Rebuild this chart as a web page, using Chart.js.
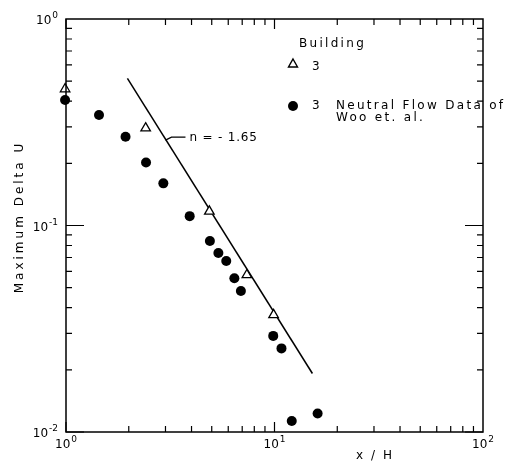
<!DOCTYPE html>
<html>
<head>
<meta charset="utf-8">
<script src="https://cdn.jsdelivr.net/npm/chart.js@4.4.0/dist/chart.umd.min.js"></script>
<style>
  html, body { margin: 0; padding: 0; background: #fff; }
  #wrap { width: 509px; height: 463px; }
</style>
</head>
<body>
<div id="wrap"><canvas id="chart"></canvas></div>
<script>
// Building 3 (open triangles)
const buildingX = [0.99, 2.41, 4.87, 7.37, 9.9];
const buildingY = [0.458, 0.296, 0.117, 0.0576, 0.0369];
// Woo et al. neutral flow data (filled circles)
const wooX = [0.99, 1.44, 1.93, 2.42, 2.93, 3.92, 4.90, 5.38, 5.87, 6.42, 6.90, 9.86, 10.8, 12.1, 16.1];
const wooY = [0.405, 0.343, 0.269, 0.202, 0.160, 0.111, 0.0841, 0.0736, 0.0673, 0.0555, 0.0482, 0.0292, 0.0254, 0.0113, 0.0123];
// power law fit line, n = -1.65
const fitX = [1.97, 15.2];
const fitY = [0.516, 0.0192];
const fitLabel = 'n = - 1.65';
const fitLabelAt = 3.0;

const xMajor = [1, 10, 100];
const xExp = ['0', '1', '2'];
const yMajor = [1, 0.1, 0.01];
const yExp = ['0', '-1', '-2'];
const xTitle = 'x / H';
const yTitle = 'Maximum Delta U';

const FONT = '"DejaVu Sans", sans-serif';

function toPoints(xs, ys) {
  return xs.map((x, i) => ({ x: x, y: ys[i] }));
}

// value on the fit line at a given x
function fitValue(x) {
  const k = Math.log(fitY[1] / fitY[0]) / Math.log(fitX[1] / fitX[0]);
  return fitY[0] * Math.pow(x / fitX[0], k);
}

function powLabel(ctx, base, exp, x, y, align) {
  ctx.font = '12px ' + FONT;
  const bw = ctx.measureText(base).width;
  ctx.font = '9px ' + FONT;
  const ew = ctx.measureText(exp).width;
  let left = x;
  if (align === 'center') left = x - (bw + ew + 1) / 2;
  if (align === 'right') left = x - (bw + ew + 1);
  ctx.textAlign = 'left';
  ctx.textBaseline = 'alphabetic';
  ctx.font = '12px ' + FONT;
  ctx.fillText(base, left, y);
  ctx.font = '9px ' + FONT;
  ctx.fillText(exp, left + bw + 1, y - 6);
}

const frame = {
  id: 'frame',
  afterDraw(chart) {
    const ctx = chart.ctx;
    const a = chart.chartArea;
    const xs = chart.scales.x;
    const ys = chart.scales.y;
    ctx.save();
    ctx.strokeStyle = '#000';
    ctx.fillStyle = '#000';
    ctx.lineWidth = 1.5;
    ctx.strokeRect(a.left, a.top, a.right - a.left, a.bottom - a.top);

    // inward ticks on all four sides
    ctx.lineWidth = 1.2;
    ctx.beginPath();
    [1, 10].forEach(d => {
      for (let m = 1; m <= 9; m++) {
        const px = xs.getPixelForValue(d * m);
        const len = m === 1 ? 10 : 6;
        ctx.moveTo(px, a.bottom); ctx.lineTo(px, a.bottom - len);
        ctx.moveTo(px, a.top); ctx.lineTo(px, a.top + len);
      }
    });
    [0.01, 0.1].forEach(d => {
      for (let m = 1; m <= 9; m++) {
        const py = ys.getPixelForValue(d * m);
        const len = m === 1 ? 18 : 6;
        ctx.moveTo(a.left, py); ctx.lineTo(a.left + len, py);
        ctx.moveTo(a.right, py); ctx.lineTo(a.right - len, py);
      }
    });
    ctx.stroke();

    // tick labels
    xMajor.forEach((v, i) => {
      powLabel(ctx, '10', xExp[i], xs.getPixelForValue(v), a.bottom + 16, 'center');
    });
    yMajor.forEach((v, i) => {
      powLabel(ctx, '10', yExp[i], a.left - 8, ys.getPixelForValue(v) + 5, 'right');
    });

    // axis titles
    ctx.font = '12px ' + FONT;
    ctx.letterSpacing = '2px';
    ctx.textAlign = 'center';
    ctx.textBaseline = 'middle';
    ctx.fillText(xTitle, 375, 456);
    ctx.save();
    ctx.translate(20, 217);
    ctx.rotate(-Math.PI / 2);
    ctx.letterSpacing = '3px';
    ctx.fillText(yTitle, 0, 0);
    ctx.restore();

    // fit annotation with leader
    const lx = xs.getPixelForValue(fitLabelAt);
    const ly = ys.getPixelForValue(fitValue(fitLabelAt));
    ctx.lineWidth = 1.2;
    ctx.beginPath();
    ctx.moveTo(lx, ly + 1);
    ctx.lineTo(lx + 6, ly - 2);
    ctx.lineTo(lx + 20, ly - 2);
    ctx.stroke();
    ctx.letterSpacing = '0.8px';
    ctx.textAlign = 'left';
    ctx.fillText(fitLabel, lx + 24, ly - 1);

    // legend
    ctx.letterSpacing = '2.3px';
    ctx.fillText('Building', 299, 44);
    ctx.fillText('3', 312, 67);
    ctx.fillText('3', 312, 106);
    ctx.fillText('Neutral Flow Data of', 336, 106);
    ctx.fillText('Woo et. al.', 336, 118);
    ctx.lineWidth = 1.4;
    ctx.beginPath();
    ctx.moveTo(293, 59); ctx.lineTo(297.5, 67); ctx.lineTo(288.5, 67); ctx.closePath();
    ctx.stroke();
    ctx.beginPath();
    ctx.arc(293, 106, 5, 0, Math.PI * 2);
    ctx.fill();
    ctx.restore();
  }
};

new Chart(document.getElementById('chart'), {
  type: 'scatter',
  data: {
    datasets: [
      {
        type: 'line',
        data: toPoints(fitX, fitY),
        borderColor: '#000',
        borderWidth: 1.5,
        pointRadius: 0,
        fill: false,
        order: 3
      },
      {
        data: toPoints(wooX, wooY),
        pointStyle: 'circle',
        pointRadius: 5,
        backgroundColor: '#000',
        borderColor: '#000',
        borderWidth: 0,
        clip: false,
        order: 2
      },
      {
        data: toPoints(buildingX, buildingY),
        pointStyle: 'triangle',
        pointRadius: 5.5,
        backgroundColor: '#fff',
        borderColor: '#000',
        borderWidth: 1.3,
        clip: false,
        order: 1
      }
    ]
  },
  options: {
    responsive: true,
    maintainAspectRatio: false,
    animation: false,
    layout: { padding: { left: 66, right: 26, top: 19, bottom: 31 } },
    plugins: { legend: { display: false }, tooltip: { enabled: false } },
    scales: {
      x: { type: 'logarithmic', min: 1, max: 100, display: false },
      y: { type: 'logarithmic', min: 0.01, max: 1, display: false }
    }
  },
  plugins: [frame]
});
</script>
</body>
</html>
